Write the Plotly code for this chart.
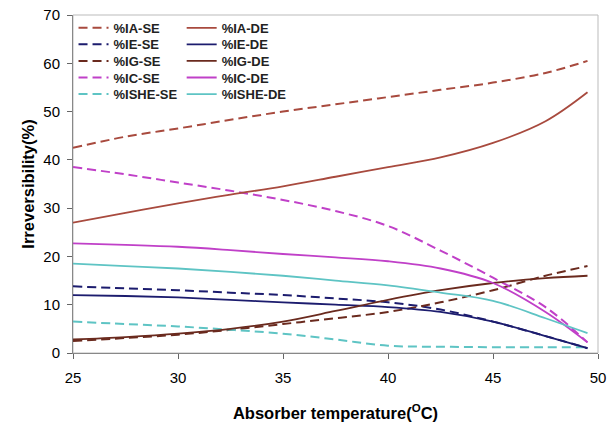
import plotly.graph_objects as go

temps = [25, 27.5, 30, 32.5, 35, 37.5, 40, 42.5, 45, 47.5, 49.5]

ia_se = [42.5, 44.8, 46.5, 48.3, 50.0, 51.5, 53.0, 54.5, 56.0, 58.0, 60.5]
ia_de = [27.0, 29.0, 31.0, 32.8, 34.5, 36.5, 38.5, 40.5, 43.5, 48.0, 54.0]
ie_se = [13.8, 13.4, 13.0, 12.5, 12.0, 11.3, 10.5, 9.0, 6.5, 3.5, 1.0]
ie_de = [12.0, 11.8, 11.5, 11.0, 10.5, 10.0, 9.5, 8.5, 6.5, 3.5, 1.0]
ig_se = [2.5, 3.1, 3.8, 4.8, 6.0, 7.2, 8.5, 10.5, 13.0, 16.0, 18.0]
ig_de = [2.8, 3.3, 4.0, 5.0, 6.5, 8.7, 11.0, 13.0, 14.5, 15.5, 16.0]
ic_se = [38.5, 37.0, 35.3, 33.6, 31.7, 29.4, 26.3, 21.2, 15.6, 9.5, 2.2]
ic_de = [22.7, 22.4, 22.0, 21.3, 20.5, 19.8, 19.0, 17.5, 14.5, 8.5, 2.2]
ishe_se = [6.5, 6.0, 5.5, 4.8, 4.0, 2.8, 1.5, 1.3, 1.2, 1.2, 1.2]
ishe_de = [18.5, 18.0, 17.5, 16.8, 16.0, 15.0, 14.0, 12.5, 10.8, 7.2, 4.1]

se_names = ["%IA-SE", "%IE-SE", "%IG-SE", "%IC-SE", "%ISHE-SE"]
de_names = ["%IA-DE", "%IE-DE", "%IG-DE", "%IC-DE", "%ISHE-DE"]
se_vals = [ia_se, ie_se, ig_se, ic_se, ishe_se]
de_vals = [ia_de, ie_de, ig_de, ic_de, ishe_de]
colors = ["#A84A3E", "#1C1C6E", "#6A2A1E", "#C040C8", "#5EC4C4"]

FONT = "Liberation Sans, Arial"
legend_font = dict(family=FONT, size=13, color="#222")
row_y = [0.962, 0.913, 0.864, 0.815, 0.766]

fig = go.Figure()
layout_legends = {}
k = 0
for col, (names, vals, dash, lx) in enumerate([
        (se_names, se_vals, "9px,5px", 0.001),
        (de_names, de_vals, "solid", 0.207)]):
    for i, (n, v, c) in enumerate(zip(names, vals, colors)):
        k += 1
        key = "legend" if k == 1 else f"legend{k}"
        fig.add_trace(go.Scatter(x=temps, y=v, name="<b>" + n + "</b>", mode="lines",
                                 showlegend=True,
                                 line=dict(color=c, width=2 if dash != "solid" else 1.8,
                                           dash=dash, shape="spline", smoothing=1.0),
                                 legend=key))
        layout_legends[key] = dict(x=lx, y=row_y[i], xanchor="left", yanchor="middle",
                                   bgcolor="rgba(0,0,0,0)", font=legend_font,
                                   itemwidth=30)

fig.update_layout(
    width=614, height=423, showlegend=True,
    margin=dict(l=73, r=16, t=15, b=70),
    plot_bgcolor="white", paper_bgcolor="white",
    font=dict(family=FONT, color="#111"),
    xaxis=dict(range=[25, 50], tickvals=[25, 30, 35, 40, 45, 50], ticks="outside", ticklen=5,
               tickcolor="#666", showline=True, linecolor="#888", automargin=False,
               showgrid=False, zeroline=False, ticklabelstandoff=6,
               tickfont=dict(size=15, family=FONT, color="#000"),
               tickprefix="<b>", ticksuffix="</b>",
               title=dict(text="<b>Absorber temperature(<sup>O</sup>C)</b>",
                          font=dict(size=16.5, color="#000"), standoff=22)),
    yaxis=dict(range=[0, 70], tickvals=[0, 10, 20, 30, 40, 50, 60, 70], ticks="outside", ticklen=5,
               tickcolor="#666", showline=True, linecolor="#888", automargin=False,
               showgrid=False, zeroline=False, ticklabelstandoff=4,
               tickfont=dict(size=15, family=FONT, color="#000"),
               tickprefix="<b>", ticksuffix="</b>",
               title=dict(text="<b>Irreversibility(%)</b>", font=dict(size=16.5, color="#000"),
                          standoff=4)),
    **layout_legends,
)
fig.add_shape(type="rect", xref="paper", yref="paper", x0=0, y0=0, x1=1, y1=1,
              line=dict(color="#bbb", width=1), layer="below")

fig.write_html("out.html")
